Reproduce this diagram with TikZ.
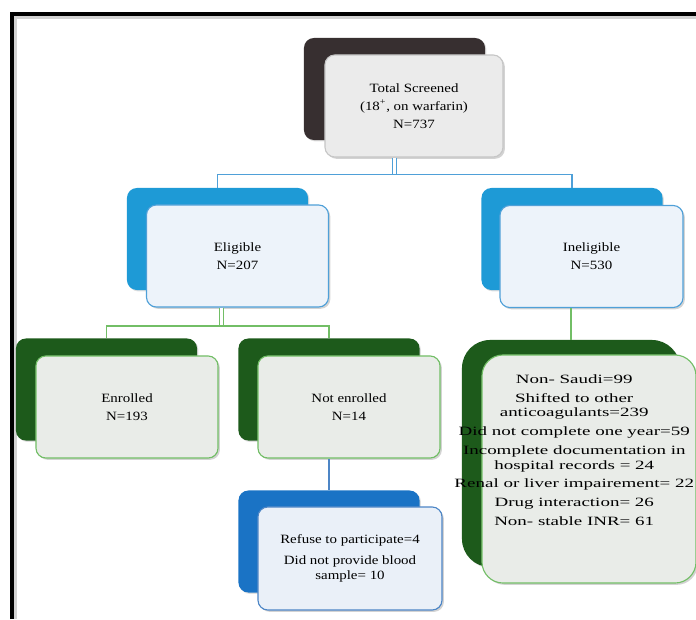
\documentclass[tikz,border=0pt]{standalone}
\usepackage{fontspec}
\setmainfont{Liberation Serif}[FakeStretch=1.18]
\newfontfamily\widefont{Liberation Serif}[FakeStretch=1.5]
\usetikzlibrary{shadows,calc}

\definecolor{darkback}{HTML}{372F30}
\definecolor{blueback}{HTML}{1E9AD6}
\definecolor{blueline}{HTML}{4FA0D8}
\definecolor{blueface}{HTML}{EDF3FA}
\definecolor{greenback}{HTML}{1D5A1B}
\definecolor{greenline}{HTML}{72BE66}
\definecolor{greenface}{HTML}{E9ECE8}
\definecolor{royalback}{HTML}{1A73C5}
\definecolor{royalline}{HTML}{4D86C6}
\definecolor{royalface}{HTML}{EAF0F8}
\definecolor{grayface}{HTML}{EBEBEB}

\begin{document}
\begin{tikzpicture}[x=0.025cm, y=-0.025cm,
  backbox/.style={rounded corners=7pt, minimum width=4.525cm, minimum height=2.55cm,
    drop shadow={opacity=0.25, shadow xshift=1pt, shadow yshift=-1pt}},
  frontbox/.style={rounded corners=7pt, minimum width=4.55cm, minimum height=2.55cm,
    line width=0.8pt, align=center, font=\fontsize{9}{13}\selectfont,
    drop shadow={opacity=0.35, shadow xshift=1.3pt, shadow yshift=-1.3pt}},
  bluelink/.style={draw=blueline, line width=0.8pt},
  greenlink/.style={draw=greenline, line width=0.8pt},
  twin/.style={double=white, double distance=2.2pt, line width=0.6pt}]

\useasboundingbox (0,0) rectangle (696,619);

% Frame
\draw[gray!35, line width=2pt] (15.5,619) -- (15.5,17.5) -- (696,17.5);
\draw[black, line width=2.2pt] (12,619) -- (12,14) -- (696,14);

% Screened
\node[backbox, fill=darkback] (scr-b) at (394.5,89) {};
% Eligible / Ineligible
\node[backbox, fill=blueback] (elig-b) at (217.5,239) {};
\node[backbox, fill=blueback] (inel-b) at (572,239) {};
% Enrolled / Not enrolled
\node[backbox, fill=greenback] (enr-b) at (106.5,389.5) {};
\node[backbox, fill=greenback] (nenr-b) at (329,389.5) {};
% Reasons
\node[backbox, fill=royalback] (ref-b) at (329,541.5) {};
\node[backbox, fill=greenback, rounded corners=20pt, minimum width=5.45cm, minimum height=5.675cm] (excl-b) at (571,453.5) {};

% Front boxes
\node[frontbox, draw=gray!45, fill=grayface, minimum width=4.45cm] (scr) at (414,106)
  {Total Screened\\(18\textsuperscript{+}, on warfarin)\\N=737};
\node[frontbox, draw=blueline, fill=blueface] (elig) at (237.5,256) {Eligible\\N=207};
\node[frontbox, draw=blueline, fill=blueface, minimum width=4.575cm] (inel) at (591.5,256.5) {Ineligible\\N=530};
\node[frontbox, draw=greenline, fill=greenface] (enr) at (127,407) {Enrolled\\N=193};
\node[frontbox, draw=greenline, fill=greenface] (nenr) at (349,407) {Not enrolled\\N=14};
\node[frontbox, draw=royalline, fill=royalface, minimum width=4.6cm, minimum height=2.575cm] (ref) at (350,558.5)
  {Refuse to participate=4\\[2pt]Did not provide blood\\[-2pt]sample= 10};
\node[frontbox, draw=greenline, fill=greenface, rounded corners=15pt, minimum width=5.35cm, minimum height=5.7cm] (excl) at (589,469)
  {\makebox[0pt]{\widefont\fontsize{9}{10}\selectfont
   \begin{tabular}{@{}c@{}}
   Non- Saudi=99\\[3.5pt]
   Shifted to other\\ anticoagulants=239\\[3.5pt]
   Did not complete one year=59\\[3.5pt]
   Incomplete documentation in\\ hospital records = 24\\[3.5pt]
   Renal or liver impairement= 22\\[3.5pt]
   Drug interaction= 26\\[3.5pt]
   Non- stable INR= 61\\[24pt]
   \end{tabular}\kern 21pt}};

% Connectors
\coordinate (bus1) at ($(scr.south)!0.55!(elig-b.north)$);
\coordinate (bus2) at ($(elig.south)!0.6!(enr-b.north)$);
\draw[bluelink, twin] (scr.south -| scr-b.center) -- (scr-b.center |- bus1);
\draw[bluelink] (elig-b.north) -- (elig-b.north |- bus1) -- (inel-b.north |- bus1) -- (inel-b.north);
\draw[greenlink, twin] ([xshift=3pt]elig.south -| elig-b.center) -- ([xshift=3pt]elig-b.center |- bus2);
\draw[greenlink] (enr-b.north) -- (enr-b.north |- bus2) -- (nenr-b.north |- bus2) -- (nenr-b.north);
\draw[greenlink] (inel.south -| excl-b.north) -- (excl-b.north);
\draw[draw=royalline, line width=0.8pt] (nenr.south -| ref-b.north) -- (ref-b.north);

\end{tikzpicture}
\end{document}
